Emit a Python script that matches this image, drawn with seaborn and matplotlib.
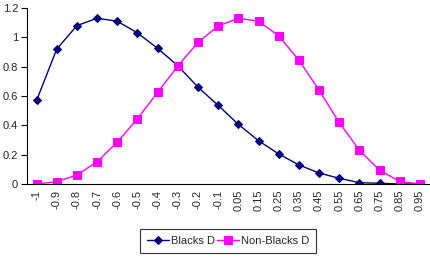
import numpy as np
import pandas as pd
import matplotlib
matplotlib.use("Agg")
import matplotlib.pyplot as plt
import seaborn as sns

# category labels on the x axis
categories = ["-1", "-0.9", "-0.8", "-0.7", "-0.6", "-0.5", "-0.4", "-0.3", "-0.2", "-0.1",
              "0.05", "0.15", "0.25", "0.35", "0.45", "0.55", "0.65", "0.75", "0.85", "0.95"]

blacks_d = [0.57, 0.92, 1.08, 1.13, 1.11, 1.03, 0.925, 0.806, 0.66, 0.536,
            0.407, 0.295, 0.205, 0.13, 0.075, 0.039, 0.009, 0.005, 0.0, 0.0]
non_blacks_d = [0.0, 0.016, 0.061, 0.152, 0.286, 0.445, 0.625, 0.804, 0.966, 1.077,
                1.13, 1.11, 1.01, 0.845, 0.64, 0.42, 0.23, 0.093, 0.018, 0.0]

series_names = ["Blacks D", "Non-Blacks D"]

df = pd.DataFrame({
    "pos": list(range(len(categories))) * 2,
    "value": blacks_d + non_blacks_d,
    "series": [series_names[0]] * len(categories) + [series_names[1]] * len(categories),
})

sns.set_style("white")
plt.rcParams["font.family"] = ["Liberation Sans", "DejaVu Sans"]

fig = plt.figure(figsize=(4.3, 2.61), dpi=100)
ax = fig.add_axes([26.5 / 430, 1 - 184 / 261, 1 - 26.5 / 430, (184 - 8) / 261])

sns.lineplot(data=df, x="pos", y="value", hue="series", style="series",
             palette={"Blacks D": "#000080", "Non-Blacks D": "#FF00FF"},
             markers={"Blacks D": "D", "Non-Blacks D": "s"},
             dashes=False, linewidth=1, ax=ax, legend=False)
# marker sizes
for line, ms in zip(ax.lines, [4.5, 5.5]):
    line.set_markersize(ms)
    line.set_markeredgecolor(line.get_color())

ax.set_xlim(-0.5, len(categories) - 0.5)
ax.set_ylim(0, 1.2)
ax.set_yticks(np.arange(0, 1.21, 0.2))
ax.set_yticklabels(["0", "0.2", "0.4", "0.6", "0.8", "1", "1.2"], fontsize=8)
ax.set_xticks(range(len(categories)))
ax.set_xticklabels(categories, rotation=90, fontsize=8)
ax.set_xticks(np.arange(-0.5, len(categories), 1), minor=True)
ax.tick_params(axis="x", which="major", length=0, pad=4)
ax.tick_params(axis="x", which="minor", length=4, width=0.8, direction="out", color="black")
ax.tick_params(axis="y", length=4, width=0.8, direction="out", color="black", pad=2, left=True)
ax.set_xlabel("")
ax.set_ylabel("")

for side in ["top", "right"]:
    ax.spines[side].set_visible(False)
for side in ["left", "bottom"]:
    ax.spines[side].set_color("black")
    ax.spines[side].set_linewidth(0.8)

leg = fig.legend(ax.lines, series_names, loc="center", bbox_to_anchor=(228 / 430, 1 - 241 / 261),
                 ncol=2, fontsize=8, frameon=True, fancybox=False, edgecolor="black",
                 handlelength=2.0, columnspacing=0.2, handletextpad=0.15, borderpad=0.6,
                 borderaxespad=0.2)
leg.get_frame().set_linewidth(0.8)

fig.savefig("out.png", dpi=100)
